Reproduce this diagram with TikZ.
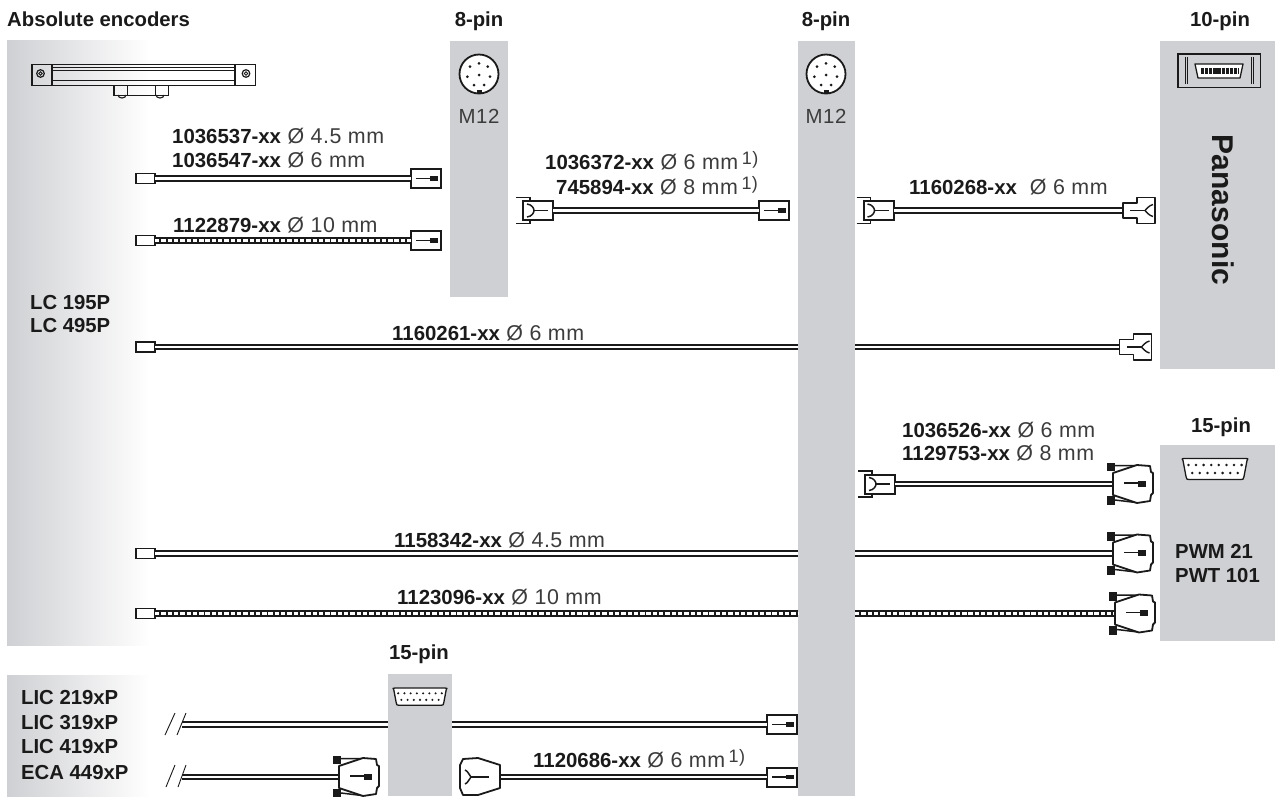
\documentclass[tikz,border=0pt]{standalone}
\usepackage{fontspec}
\setmainfont{Liberation Sans}
\newfontfamily\cablefont[LetterSpace=2.5]{Liberation Sans}
\usepackage{xcolor}
\usepackage{tikz}
\definecolor{panelgrey}{HTML}{CFD0D3}
\definecolor{inkblack}{HTML}{1A1A1A}
\definecolor{inkgrey}{HTML}{3C3C3C}
\usetikzlibrary{positioning}
\newcommand{\partno}[1]{{\normalfont\fontsize{20.4}{24}\selectfont\bfseries\color{inkblack}#1}}
\newcommand{\noteone}{\,\raisebox{5pt}{\fontsize{18}{18}\selectfont 1)}}
\tikzset{
  panel/.style={fill=panelgrey,draw=none,anchor=north west,inner sep=0pt,outer sep=0pt},
  fadepanel/.style={left color=panelgrey,right color=white,draw=none,anchor=north west,inner sep=0pt,outer sep=0pt},
  headtext/.style={font=\fontsize{20.3}{24}\selectfont\bfseries,text=inkblack,inner sep=0pt,text height=14.5pt,text depth=0pt},
  sizetext/.style={font=\fontsize{20.4}{24}\selectfont\cablefont,text=inkgrey,inner sep=0pt,text height=14.5pt,text depth=0pt},
  parttext/.style={font=\fontsize{21.4}{24}\selectfont\cablefont,text=inkgrey,anchor=west,inner sep=0pt,text height=14.5pt,text depth=0pt},
  endblock/.style={draw=inkblack,fill=white,line width=1.8pt,minimum width=19pt,minimum height=10pt,inner sep=0pt,outer sep=0pt},
  plugbox/.style={draw=inkblack,fill=white,line width=2pt,minimum width=30pt,minimum height=19pt,inner sep=0pt,outer sep=0pt},
  sockbox/.style={minimum width=32pt,minimum height=26pt,inner sep=0pt,outer sep=0pt},
  subbox/.style={minimum width=40pt,minimum height=38pt,inner sep=0pt,outer sep=0pt},
  cable/.style={draw=inkblack,double=white,double distance=2.4pt,line width=2.1pt},
  armour/.style={draw=inkblack,line width=6.4pt,postaction={draw=white,line width=2.2pt,dash pattern=on 4.4pt off 1.9pt}},
  outline/.style={draw=inkblack,fill=white,line width=1.8pt,line join=round},
  plugpin/.pic={
    \draw[inkblack,line width=1.3pt] (-10,0) -- (4,0);
    \fill[inkblack] (4,-2.4) rectangle (12,2.4);
  },
  coupling/.pic={
    \draw[inkblack,line width=1.6pt] (-22,-13) -- (-8,-13) -- (-8,-9.5);
    \draw[inkblack,line width=1.6pt] (-22,13) -- (-8,13) -- (-8,9.5);
    \draw[inkblack,line width=1.5pt] (-11,-6.5) .. controls (-6,-6) and (-4,-2) .. (-4,0) .. controls (-4,2) and (-6,6) .. (-11,6.5);
    \draw[inkblack,line width=1.3pt] (-4,0) -- (10,0);
  },
  panaplug/.pic={
    \draw[outline] (-16,-7.5) -- (-2,-7.5) -- (-2,-13) -- (16,-13) -- (16,13) -- (-2,13) -- (-2,7.5) -- (-16,7.5) -- cycle;
    \draw[inkblack,line width=1.4pt] (-9,0) -- (6,0);
    \draw[inkblack,line width=1.4pt] (14,-6) .. controls (10,-5) and (8,-2) .. (6,0) .. controls (8,2) and (10,5) .. (14,6);
  },
  subplug/.pic={
    \draw[inkblack,line width=1.5pt] (-18,-18.5) -- (3,-18.5) (-18,16) -- (3,18.5);
    \draw[outline] (-20,-11) -- (4,-19) -- (17,-18) -- (18,-12) -- (20,-11) -- (20,9) -- (18,11) -- (17,17) -- (4,19) -- (-20,11) -- cycle;
    \fill[inkblack] (-26.5,-21.5) rectangle (-18,-13);
    \fill[inkblack] (-26.5,12) rectangle (-18,21);
    \draw[inkblack,line width=1.3pt] (-9,-1) -- (5,-1);
    \fill[inkblack] (5,-3.5) rectangle (13,2.5);
  },
  trapplug/.pic={
    \draw[outline] (-20,-12) -- (-17,-18) -- (-2,-19) -- (20,-12) -- (20,11) -- (-2,18) -- (-17,18) -- (-20,11) -- cycle;
    \draw[inkblack,line width=1.5pt] (-15,-7) .. controls (-12,-6) and (-11,-2) .. (-9,0) .. controls (-11,2) and (-12,6) .. (-15,7);
    \draw[inkblack,line width=1.3pt] (-9,0) -- (9,0);
  },
  roundsocket/.pic={
    \draw[inkblack,fill=white,line width=1.8pt] (0,0) circle (19.5);
    \foreach \dx/\dy in {0/-10.7,-9/-7.3,8.7/-7.3,0/1,-11.7/2.7,11/2.7,-5/11,5/11}
      \fill[inkblack] (\dx,\dy) circle (1.5);
    \fill[inkblack] (-2.5,15.5) rectangle (2.5,19);
  },
  dsubsocket/.pic={
    \draw[outline,line width=1.3pt] (-32,-9) .. controls (-34,-10.5) and (-33,-11) .. (-30,-11) -- (30,-11) .. controls (33,-11) and (34,-10.5) .. (32,-9) -- (29,7) .. controls (28.5,10) and (28,10) .. (26,10) -- (-26,10) .. controls (-28,10) and (-28.5,10) .. (-29,7) -- cycle;
    \foreach \n in {0,...,7}
      \fill[inkblack] (-26.6+7.6*\n,-4.5) circle (1.4);
    \foreach \n in {0,...,6}
      \fill[inkblack] (-22.8+7.6*\n,3.5) circle (1.4);
  },
}
\begin{document}
\begin{tikzpicture}[x=1pt,y=-1pt]
\useasboundingbox (0,0) rectangle (1275,796);

% panels
\node[fadepanel,minimum width=143pt,minimum height=605pt] (encpanel) at (7,40) {};
\node[fadepanel,minimum width=143pt,minimum height=121pt] (licpanel) at (7,675) {};
\node[panel,minimum width=58pt,minimum height=256pt] (pinA) at (450,41) {};
\node[panel,minimum width=57pt,minimum height=755pt] (pinB) at (798,41) {};
\node[panel,minimum width=115pt,minimum height=328pt] (pana) at (1160,41) {};
\node[panel,minimum width=115pt,minimum height=196pt] (pwm) at (1160,445) {};
\node[panel,minimum width=64pt,minimum height=122pt] (pinC) at (388,674) {};

% headings
\node[headtext,anchor=west] (title) at (7,19) {Absolute encoders};
\node[headtext] (pinAhead) at (479,19) {8-pin};
\node[headtext] (pinBhead) at (826,19) {8-pin};
\node[headtext] (panahead) at (1220,19) {10-pin};
\node[headtext] (pwmhead) at (1221,425) {15-pin};
\node[headtext] (pinChead) at (419,652) {15-pin};

% encoder
\draw[inkblack,line width=1.5pt] (32,64.5) rectangle (255.5,85.5);
\draw[inkblack,line width=1.2pt] (52,64.5) -- (52,85.5) (235,64.5) -- (235,85.5);
\draw[inkblack,line width=1pt] (52,67.7) -- (235,67.7) (52,70.7) -- (235,70.7) (52,80) -- (235,80);
\draw[inkblack,line width=1.2pt] (40.5,73.5) circle (3.8) (246,73.5) circle (3.8);
\draw[inkblack,line width=0.8pt] (40.5,73.5) circle (1.8) (246,73.5) circle (1.8);
\draw[inkblack,line width=1.4pt] (114,85.5) -- (114,95.5) -- (168.5,95.5) -- (168.5,85.5);
\draw[inkblack,line width=1pt] (127,85.5) -- (127,95.5) (155,85.5) -- (155,95.5);
\draw[inkblack,line width=1.1pt] (118,95) arc (180:0:4 and 3) (156,95) arc (180:0:4 and 3);

% sockets
\pic at (479,74) {roundsocket};
\pic at (826,74) {roundsocket};
\node[sizetext] (pinAsize) at (479,116) {M12};
\node[sizetext] (pinBsize) at (826,116) {M12};
\draw[inkblack,line width=1.3pt,fill=panelgrey] (1178,54) rectangle (1260.5,87.5);
\draw[inkblack,line width=0.9pt] (1185,57) -- (1185,84) (1187,57) -- (1187,84) (1251,57) -- (1251,84) (1253,57) -- (1253,84);
\draw[outline,line width=1.3pt] (1195,64) -- (1243,64) -- (1240,78) -- (1198,78) -- cycle;
\draw[inkblack,line width=6pt,dash pattern=on 3.2pt off 0.9pt] (1201,71) -- (1238,71);
\node[headtext,font=\fontsize{30}{34}\selectfont\bfseries,rotate=-90,text height=21.5pt] (pananame) at (1223,210) {Panasonic};
\pic[scale=1] at (1215,469.5) {dsubsocket};
\pic[scale=0.82] at (420,697) {dsubsocket};
\node[headtext] (pwmname) at (1175,551) [anchor=west] {PWM 21};
\node[headtext] (pwtname) at (1175,575) [anchor=west] {PWT 101};

% encoder names
\node[headtext,anchor=west] (lcA) at (30,302) {LC 195P};
\node[headtext,anchor=west] (lcB) at (30,325) {LC 495P};
\node[headtext,anchor=west] (licA) at (21,697) {LIC 219xP};
\node[headtext,anchor=west] (licB) at (21,722) {LIC 319xP};
\node[headtext,anchor=west] (licC) at (21,746) {LIC 419xP};
\node[headtext,anchor=west] (ecaA) at (21,772) {ECA 449xP};

% cable ends
\node[endblock] (endA) at (145.5,178.5) {};
\node[endblock] (endB) at (145.5,240.5) {};
\node[endblock] (endC) at (145.5,347) {};
\node[endblock] (endD) at (145.5,553.5) {};
\node[endblock] (endE) at (145.5,613.5) {};
\coordinate (cutA) at (182,724.5);
\coordinate (cutB) at (182,777);

\node[plugbox] (plugA) at (426,178.5) {};
\node[plugbox] (plugB) at (426,240.5) {};
\node[plugbox] (plugC) at (774,210.5) {};
\node[plugbox] (plugD) at (782,724.5) {};
\node[plugbox] (plugE) at (782,777) {};
\node[plugbox] (coupA) at (538,210.5) {};
\node[plugbox] (coupB) at (878.5,210.5) {};
\node[plugbox] (coupC) at (880,484) {};
\node[sockbox] (sockA) at (1139,210.5) {};
\node[sockbox] (sockB) at (1135.5,347) {};
\node[subbox] (subA) at (1133,484) {};
\node[subbox] (subB) at (1133,553.5) {};
\node[subbox] (subC) at (1135,613.5) {};
\node[subbox] (subD) at (359,777) {};
\node[subbox] (trapA) at (480,777) {};

% cables
\draw[cable] (endA) -- (plugA);
\draw[armour] (endB) -- (plugB);
\draw[cable] (coupA) -- (plugC);
\draw[cable] (coupB) -- (sockA);
\draw[cable] (endC) -- (endC -| pinB.west);
\draw[cable] (endC -| pinB.east) -- (sockB);
\draw[cable] (coupC) -- (subA);
\draw[cable] (endD) -- (endD -| pinB.west);
\draw[cable] (endD -| pinB.east) -- (subB);
\draw[armour] (endE) -- (endE -| pinB.west);
\draw[armour] (endE -| pinB.east) -- (subC);
\draw[cable] (cutA) -- (cutA -| pinC.west);
\draw[cable] (cutA -| pinC.east) -- (plugD);
\draw[cable] (cutB) -- (subD);
\draw[cable] (trapA) -- (plugE);

% cable end details
\foreach \plugname in {plugA,plugB,plugC,plugD,plugE} {
  \pic at (\plugname) {plugpin};
}
\foreach \coupname in {coupA,coupB,coupC} {
  \pic at (\coupname) {coupling};
}
\pic at (sockA) {panaplug};
\pic at (sockB) {panaplug};
\pic at (subA) {subplug};
\pic at (subB) {subplug};
\pic at (subC) {subplug};
\pic at (subD) {subplug};
\pic at (trapA) {trapplug};

% cut marks
\draw[inkblack,line width=0.9pt] (165,735) -- (175,713);
\draw[inkblack,line width=0.9pt] (177,735) -- (186,713);
\draw[inkblack,line width=0.9pt] (166,787) -- (175,765);
\draw[inkblack,line width=0.9pt] (178,787) -- (186,765);

% labels
\node[parttext] (partA) at (172,136) {\partno{1036537-xx} Ø 4.5 mm};
\node[parttext] (partB) at (172,160) {\partno{1036547-xx} Ø 6 mm};
\node[parttext] (partC) at (173,225) {\partno{1122879-xx} Ø 10 mm};
\node[parttext] (partD) at (545,162) {\partno{1036372-xx} Ø 6 mm\noteone};
\node[parttext] (partE) at (556,187) {\partno{745894-xx} Ø 8 mm\noteone};
\node[parttext] (partF) at (909,187) {\partno{1160268-xx}\ \ Ø 6 mm};
\node[parttext] (partG) at (392,333) {\partno{1160261-xx} Ø 6 mm};
\node[parttext] (partH) at (902,430) {\partno{1036526-xx} Ø 6 mm};
\node[parttext] (partI) at (902,453) {\partno{1129753-xx} Ø 8 mm};
\node[parttext] (partJ) at (394,540) {\partno{1158342-xx} Ø 4.5 mm};
\node[parttext] (partK) at (397,597) {\partno{1123096-xx} Ø 10 mm};
\node[parttext] (partL) at (533,760) {\partno{1120686-xx} Ø 6 mm\noteone};
\end{tikzpicture}
\end{document}
